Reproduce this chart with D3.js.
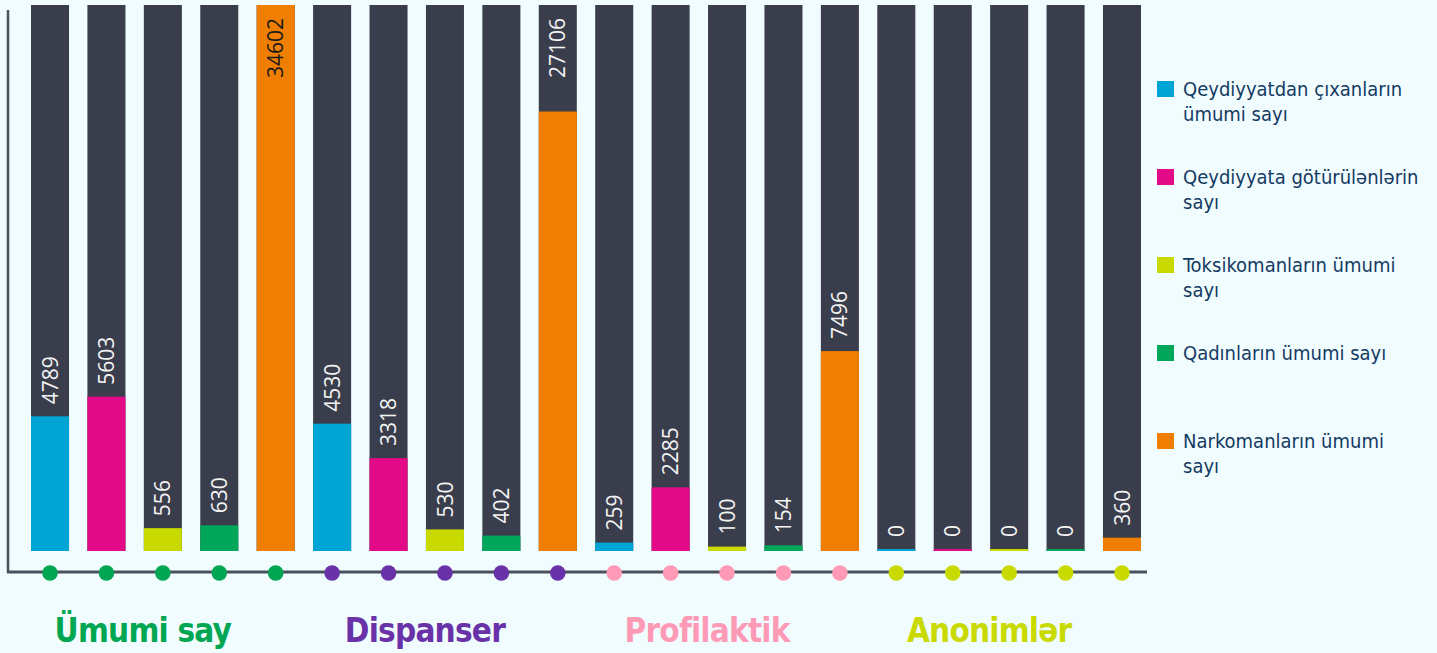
<!DOCTYPE html>
<html>
<head>
<meta charset="utf-8">
<script src="https://cdn.jsdelivr.net/npm/d3@7"></script>
<style>
  html, body { margin: 0; padding: 0; background: #f0fcfe; }
  svg { display: block; }
</style>
</head>
<body>
<svg id="chart" width="1437" height="653"></svg>
<script>
// ---- Data ----
const groups = ["Ümumi say", "Dispanser", "Profilaktik", "Anonimlər"];
const seriesNames = [
  "Qeydiyyatdan çıxanların ümumi sayı",
  "Qeydiyyata götürülənlərin sayı",
  "Toksikomanların ümumi sayı",
  "Qadınların ümumi sayı",
  "Narkomanların ümumi sayı"
];
const legendLines = [
  ["Qeydiyyatdan çıxanların", "ümumi sayı"],
  ["Qeydiyyata götürülənlərin", "sayı"],
  ["Toksikomanların ümumi", "sayı"],
  ["Qadınların ümumi sayı"],
  ["Narkomanların ümumi", "sayı"]
];
const umumiSay    = [4789, 5603, 556, 630, 34602];
const dispanser   = [4530, 3318, 530, 402, 27106];
const profilaktik = [259, 2285, 100, 154, 7496];
const anonimler   = [0, 0, 0, 0, 360];
const groupValues = [umumiSay, dispanser, profilaktik, anonimler];

const seriesColors = ["#00a5d5", "#e20a87", "#c8da00", "#00a65a", "#f07e00"];
const groupColors = ["#00a651", "#6a32a8", "#ff9ab6", "#c8da00"];

// ---- Build flat records ----
const records = [];
groups.forEach((g, gi) => {
  groupValues[gi].forEach((v, si) => {
    records.push({ key: gi + "-" + si, group: gi, series: si, value: v });
  });
});

const svg = d3.select("#chart");
const barBottom = 551, barTop = 5;

const x = d3.scaleBand()
  .domain(records.map(d => d.key))
  .range([31, 1141])
  .paddingInner(0.326)
  .paddingOuter(0);

// The infographic uses a non-linear (piecewise) height scale
const h = d3.scaleLinear()
  .domain([0, 250, 600, 2300, 4800, 7500, 27000, 34602])
  .range([2, 8, 25, 64, 135, 200, 438, barBottom - barTop]);
const y = v => barBottom - h(v);

// background dark bars
svg.append("g").selectAll("rect")
  .data(records).join("rect")
  .attr("x", d => x(d.key))
  .attr("y", barTop)
  .attr("width", x.bandwidth())
  .attr("height", barBottom - barTop)
  .attr("fill", "#3a3d4c");

// value bars
svg.append("g").selectAll("rect")
  .data(records).join("rect")
  .attr("x", d => x(d.key))
  .attr("y", d => y(d.value))
  .attr("width", x.bandwidth())
  .attr("height", d => h(d.value))
  .attr("fill", d => seriesColors[d.series]);

// value labels
svg.append("g").selectAll("text")
  .data(records).join("text")
  .attr("transform", d => {
    const cx = x(d.key) + x.bandwidth() / 2;
    const top = y(d.value);
    const ty = top < 150 ? 18 : Math.min(top - 12, 541);
    return `translate(${cx},${ty}) rotate(-90)`;
  })
  .attr("text-anchor", d => y(d.value) < 150 ? "end" : "start")
  .attr("dy", "0.36em")
  .attr("font-family", "'Open Sans', sans-serif")
  .attr("font-size", 21)
  .attr("fill", d => y(d.value) < 80 ? "#1b1b1b" : "#f4f4f4")
  .text(d => d.value);

// axes lines
const axisColor = "#4b505d";
svg.append("line")
  .attr("x1", 8).attr("x2", 8).attr("y1", 10).attr("y2", 573)
  .attr("stroke", axisColor).attr("stroke-width", 2.5);
svg.append("line")
  .attr("x1", 7).attr("x2", 1147).attr("y1", 572).attr("y2", 572)
  .attr("stroke", axisColor).attr("stroke-width", 3);

// dots
svg.append("g").selectAll("circle")
  .data(records).join("circle")
  .attr("cx", d => x(d.key) + x.bandwidth() / 2)
  .attr("cy", 573)
  .attr("r", 7.8)
  .attr("fill", d => groupColors[d.group]);

// group labels
svg.append("g").selectAll("text")
  .data(groups).join("text")
  .attr("x", (g, gi) => {
    const keys = records.filter(d => d.group === gi).map(d => d.key);
    const x0 = x(keys[0]), x1 = x(keys[keys.length - 1]) + x.bandwidth();
    return (x0 + x1) / 2 - 20;
  })
  .attr("y", 642)
  .attr("text-anchor", "middle")
  .attr("font-family", "'DejaVu Sans Condensed', 'DejaVu Sans', sans-serif")
  .attr("font-weight", "bold")
  .attr("font-size", 33)
  .attr("letter-spacing", "-0.8px")
  .attr("fill", (g, gi) => groupColors[gi])
  .text(g => g);

// legend
const legend = svg.append("g").selectAll("g")
  .data(seriesNames).join("g")
  .attr("transform", (d, i) => `translate(1157, ${96 + i * 88})`);
legend.append("rect")
  .attr("x", 0).attr("y", -15)
  .attr("width", 17).attr("height", 16)
  .attr("fill", (d, i) => seriesColors[i]);
legend.append("text")
  .attr("x", 26).attr("y", 0)
  .attr("font-family", "'DejaVu Sans Condensed', 'DejaVu Sans', sans-serif")
  .attr("font-size", 20)
  .attr("fill", "#143a63")
  .selectAll("tspan")
  .data((d, i) => legendLines[i]).join("tspan")
  .attr("x", 26)
  .attr("dy", (d, j) => j === 0 ? 0 : 25)
  .text(d => d);
</script>
</body>
</html>
